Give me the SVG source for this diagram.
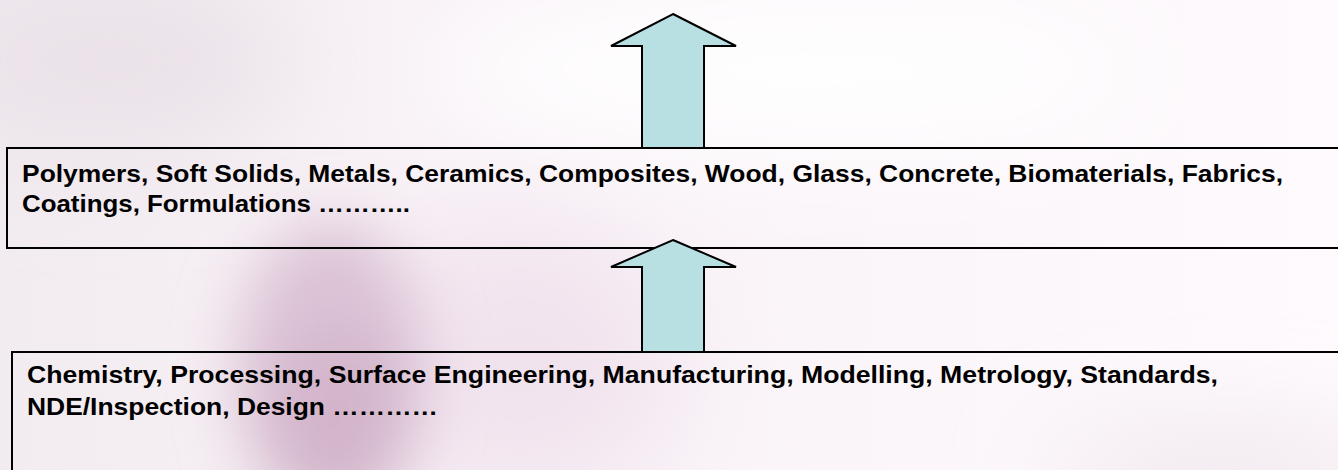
<svg xmlns="http://www.w3.org/2000/svg" width="1338" height="470" viewBox="0 0 1338 470">
  <defs>
    <filter id="soft" x="-50%" y="-50%" width="200%" height="200%">
      <feGaussianBlur stdDeviation="30"/>
    </filter>
    <filter id="softer" x="-50%" y="-50%" width="200%" height="200%">
      <feGaussianBlur stdDeviation="55"/>
    </filter>
    <linearGradient id="bgBase" x1="0" y1="0" x2="1" y2="0">
      <stop offset="0" stop-color="#f2ebf0"/>
      <stop offset="0.3" stop-color="#f8f1f6"/>
      <stop offset="1" stop-color="#fefafd"/>
    </linearGradient>
    <style>
      .box { fill: none; stroke: #000; stroke-width: 2; }
      .arrow { fill: #b8dfe2; stroke: #000; stroke-width: 2; stroke-linejoin: miter; }
      .label { font-family: "Liberation Sans", Arial, sans-serif; font-weight: bold; font-size: 24px; fill: #000; }
    </style>
  </defs>

  <!-- soft pink background wash -->
  <g id="background">
    <rect x="0" y="0" width="1338" height="470" fill="url(#bgBase)"/>
    <g filter="url(#softer)">
      <ellipse cx="110" cy="60" rx="180" ry="90" fill="#eae2e8"/>
      <ellipse cx="520" cy="360" rx="160" ry="140" fill="#f1e3ee"/>
      <ellipse cx="1230" cy="480" rx="170" ry="35" fill="#e9dee6"/>
      <ellipse cx="780" cy="70" rx="360" ry="80" fill="#ffffff"/>
    </g>
    <g filter="url(#soft)">
      <ellipse cx="330" cy="370" rx="95" ry="150" fill="#dcc3d6"/>
      <ellipse cx="340" cy="420" rx="70" ry="90" fill="#d3b5cb"/>
    </g>
  </g>

  <g id="node-materials">
    <rect class="box" x="7" y="148" width="1345" height="100"/>
    <text class="label" x="22" y="182" textLength="1261" lengthAdjust="spacingAndGlyphs">Polymers, Soft Solids, Metals, Ceramics, Composites, Wood, Glass, Concrete, Biomaterials, Fabrics,</text>
    <text class="label" x="22" y="212" textLength="388" lengthAdjust="spacingAndGlyphs">Coatings, Formulations ………..</text>
  </g>

  <!-- block arrows linking the layers; drawn after the upper box so the lower head covers its edge -->
  <g id="connectors">
    <polygon class="arrow" points="673,14 736,46 704,46 704,148 642,148 642,46 611,46"/>
    <polygon class="arrow" points="673,240 736,267 704,267 704,352 642,352 642,267 611,267"/>
  </g>

  <g id="node-disciplines">
    <rect class="box" x="12" y="352" width="1340" height="130"/>
    <text class="label" x="27" y="383" textLength="1191" lengthAdjust="spacingAndGlyphs">Chemistry, Processing, Surface Engineering, Manufacturing, Modelling, Metrology, Standards,</text>
    <text class="label" x="27" y="415" textLength="411" lengthAdjust="spacingAndGlyphs">NDE/Inspection, Design …………</text>
  </g>
</svg>
